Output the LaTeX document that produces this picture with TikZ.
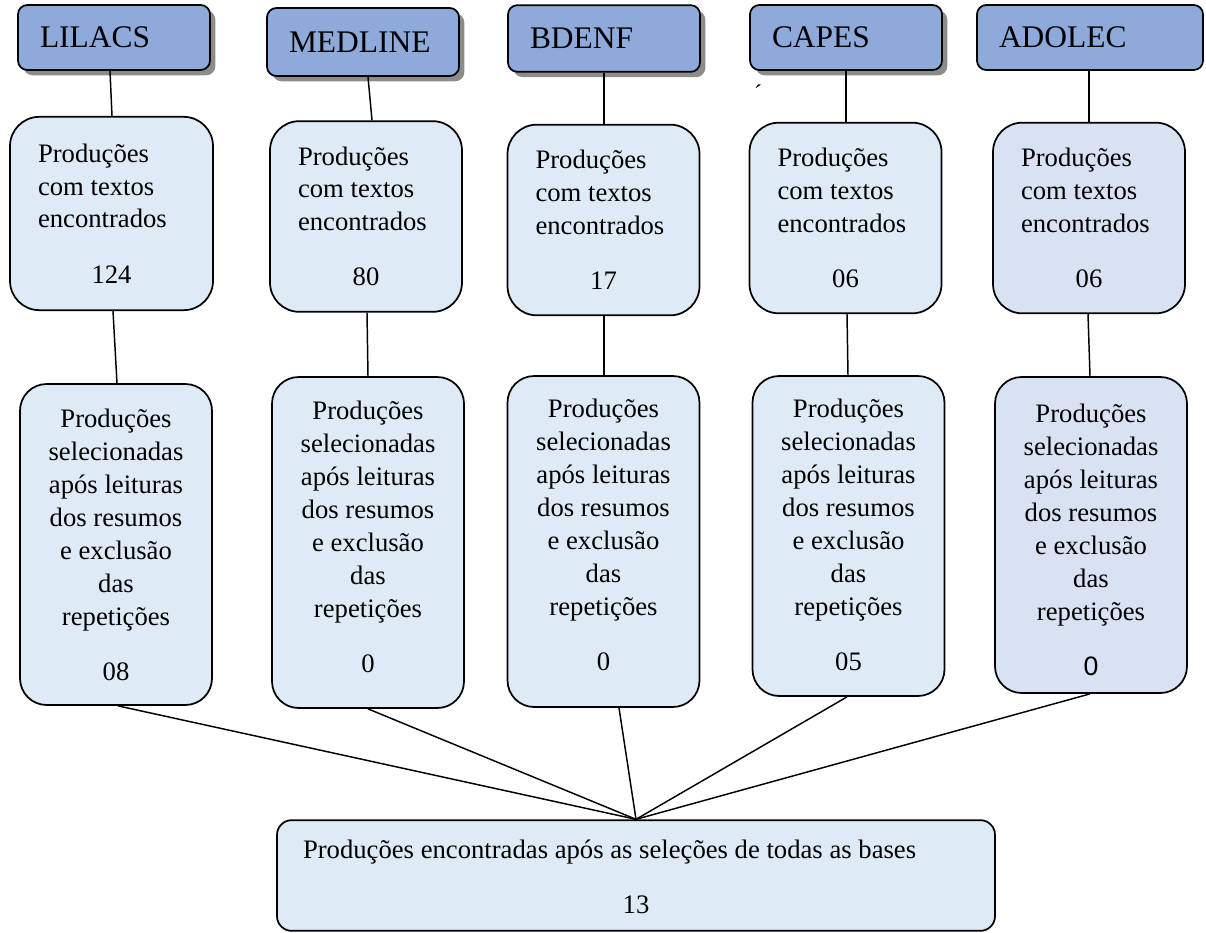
\documentclass[tikz,border=0pt]{standalone}
\usepackage{fontspec}
\setmainfont{Liberation Serif}
\newfontfamily\arialfont{Liberation Sans}
\usetikzlibrary{shadows}
\definecolor{headblue}{HTML}{8EAADB}
\definecolor{boxblue}{HTML}{DEEAF6}
\definecolor{boxlilac}{HTML}{D9E2F3}
\newcommand{\enctext}[1]{\spaceskip=0pt Produções\\com textos\\encontrados\\[17pt]\makebox[\linewidth]{#1}}
\newcommand{\seltext}[3]{\rule{0pt}{#1}Produções\\selecionadas\\após leituras\\dos resumos\\e exclusão\\das\\repetições\\[16.5pt]#3\rule[-#2]{0pt}{#2}}

\begin{document}
\begin{tikzpicture}[x=0.75pt,y=-0.75pt,
                base/.style={draw, line width=1.3pt, fill=boxblue},
                head/.style={base, fill=headblue, rounded corners=7pt, align=left, text width=111pt, inner xsep=16.5pt, minimum height=48.75pt, font=\fontsize{23.6}{28}\selectfont},
                shadowed/.style={head, drop shadow={shadow xshift=4pt, shadow yshift=-4pt, opacity=0.6, fill=black!75}},
                enc/.style={base, rounded corners=22pt, align=left, text width=102pt, inner xsep=21pt, minimum height=143pt, font=\fontsize{20}{24.5}\selectfont},
                sel/.style={base, rounded corners=20pt, align=center, minimum width=144pt, inner ysep=0pt, font=\fontsize{20}{24.75}\selectfont},
                link/.style={line width=1.1pt}]
                \useasboundingbox (0,0) rectangle (1206,932);
                \node[shadowed] (lilacs) at (114,37.5) {LILACS};
                \node[shadowed, minimum height=51pt] (medline) at (363,42) {MEDLINE};
                \node[shadowed, minimum height=50pt] (bdenf) at (604,38.5) {BDENF};
                \node[shadowed] (capes) at (846,37.5) {CAPES};
                \node[head, text width=136.5pt] (adolec) at (1090,37.5) {ADOLEC};
                \node (tick) at (758,93) {\fontsize{18}{18}\selectfont ´};

                \node[enc, text width=110.25pt, minimum height=145pt] (lilacsenc) at (111.5,213.5) {\enctext{124}};
                \node[enc] (medlineenc) at (366,216.5) {\enctext{80}};
                \node[enc] (bdenfenc) at (603.5,220) {\enctext{17}};
                \node[enc] (capesenc) at (845.5,218) {\enctext{06}};
                \node[enc, fill=boxlilac] (adolecenc) at (1089,218) {\enctext{06}};

                \node[sel, minimum height=240.75pt] (lilacssel) at (116,544.5) {\seltext{21pt}{7.5pt}{08}};
                \node[sel, minimum height=248.25pt] (medlinesel) at (368,542.5) {\seltext{18pt}{13.5pt}{0}};
                \node[sel, minimum height=248.25pt] (bdenfsel) at (603.5,541.5) {\seltext{18pt}{15pt}{0}};
                \node[sel, minimum height=240pt] (capessel) at (848.5,536) {\seltext{18.75pt}{7.5pt}{05}};
                \node[sel, fill=boxlilac, minimum height=237pt] (adolecsel) at (1091,535) {\seltext{27.75pt}{7.5pt}{\arialfont 0}};

                \node[base, rounded corners=11pt, align=left, text width=499.5pt, inner xsep=19.5pt, inner ysep=0pt, minimum height=83pt, font=\fontsize{20}{24.75}\selectfont] (total) at (636,875.5) {\spaceskip=0pt\rule{0pt}{24pt}Produções encontradas após as seleções de todas as bases\\[16.5pt]\makebox[\linewidth]{13\rule[-9pt]{0pt}{9pt}}};

                \draw[link] (lilacs.south -| 110,0) -- (lilacsenc.north -| 112,0);
                \draw[link] (medline.south -| 368,0) -- (medlineenc.north -| 372,0);
                \draw[link] (bdenf.south) -- (bdenfenc.north -| 604,0);
                \draw[link] (capes.south) -- (capesenc.north -| 846,0);
                \draw[link] (adolec.south -| 1089,0) -- (adolecenc.north);

                \draw[link] (lilacsenc.south -| 113,0) -- (lilacssel.north -| 117,0);
                \draw[link] (medlineenc.south -| 367,0) -- (medlinesel.north);
                \draw[link] (bdenfenc.south -| 604,0) -- (bdenfsel.north -| 604,0);
                \draw[link] (capesenc.south -| 847,0) -- (capessel.north -| 848,0);
                \draw[link] (adolecenc.south -| 1088,0) -- (adolecsel.north -| 1090,0);

                \draw[link] (lilacssel.south -| 118,0) -- (total.north);
                \draw[link] (medlinesel.south) -- (total.north);
                \draw[link] (bdenfsel.south -| 619,0) -- (total.north);
                \draw[link] (capessel.south -| 847,0) -- (total.north);
                \draw[link] (adolecsel.south -| 1090,0) -- (total.north);
\end{tikzpicture}
\end{document}
